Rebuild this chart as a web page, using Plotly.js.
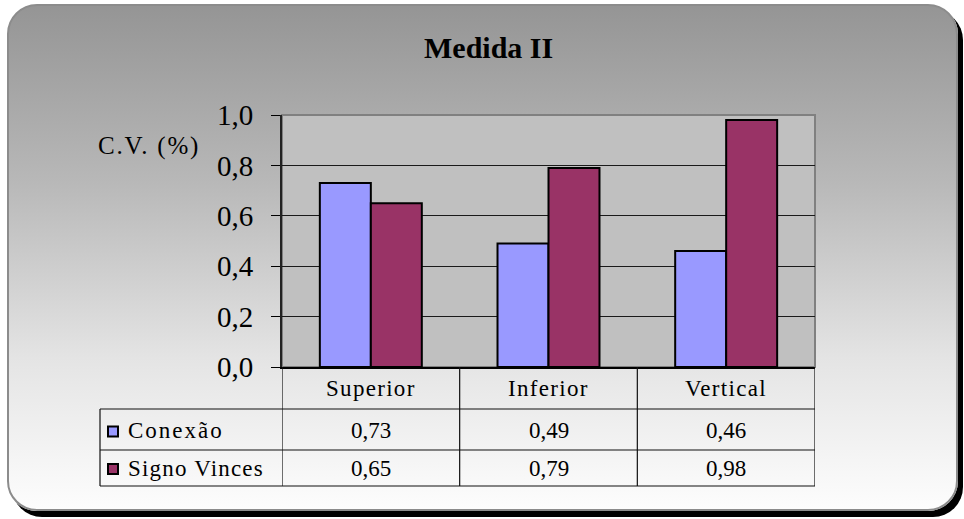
<!DOCTYPE html>
<html>
<head>
<meta charset="utf-8">
<script src="https://cdn.plot.ly/plotly-3.0.1.min.js"></script>
<style>
  html, body { margin: 0; padding: 0; background: #ffffff; }
  #wrap { position: relative; width: 964px; height: 519px; overflow: hidden; background: #ffffff; }
  #bg {
    position: absolute; left: 7px; top: 4px; width: 947px; height: 503px;
    border: 2px solid #8c8c8c; border-radius: 30px;
    background: linear-gradient(to bottom, #959595 0%, #b8b8b8 35%, #e4e4e4 70%, #fdfdfd 100%);
    box-shadow: 5px 6px 0 #000000;
  }
  #chart { position: absolute; left: 0; top: 0; width: 964px; height: 519px; }
</style>
</head>
<body>
<div id="wrap">
  <div id="bg"></div>
  <div id="chart"></div>
</div>
<script>
// ---- data ----
var categories = ["Superior", "Inferior", "Vertical"];
var seriesNames = ["Conexão", "Signo Vinces"];
var conexao = [0.73, 0.49, 0.46];
var signoVinces = [0.65, 0.79, 0.98];
var yTickValues = [0, 0.2, 0.4, 0.6, 0.8, 1.0];
var chartTitle = "Medida II";
var yLabel = "C.V. (%)";

// ---- layout helpers (pixel -> paper) ----
var W = 964, H = 519;
function px(x) { return x / W; }
function py(y) { return 1 - y / H; }

var colors = ["#9999FF", "#993366"];
var nameSpacing = [2, 1.2];
var seriesValues = [conexao, signoVinces];
var serifFont = "Liberation Serif";

var traces = seriesValues.map(function (vals, i) {
  return {
    type: "bar",
    x: categories,
    y: vals,
    name: seriesNames[i],
    marker: { color: colors[i], line: { color: "#000000", width: 2 } },
    hoverinfo: "skip"
  };
});

var plotL = 282, plotR = 815, plotT = 115, plotB = 367;
var rowY = [367, 409, 450, 486];

var shapes = [];
// plot area outline (gray top/right)
shapes.push({ type: "rect", xref: "paper", yref: "paper",
  x0: px(plotL), x1: px(plotR), y0: py(plotB), y1: py(plotT),
  line: { color: "#808080", width: 2 }, layer: "below" });

var lineColor = "#111111";
// table horizontal lines
[rowY[1], rowY[2], rowY[3]].forEach(function (y) {
  shapes.push({ type: "line", xref: "paper", yref: "paper",
    x0: px(100), x1: px(plotR), y0: py(y), y1: py(y),
    line: { color: lineColor, width: 1.2 } });
});
// vertical lines at category boundaries
for (var k = 0; k <= categories.length; k++) {
  shapes.push({ type: "line", xref: "x", yref: "paper",
    x0: k - 0.5, x1: k - 0.5, y0: py(rowY[0]), y1: py(rowY[3]),
    line: { color: lineColor, width: 1.2 } });
}
// left table border
shapes.push({ type: "line", xref: "paper", yref: "paper",
  x0: px(100), x1: px(100), y0: py(rowY[1]), y1: py(rowY[3]),
  line: { color: lineColor, width: 1.2 } });

// legend keys in table
var keyCenters = [(rowY[1] + rowY[2]) / 2 + 2, (rowY[2] + rowY[3]) / 2 + 1];
seriesNames.forEach(function (n, i) {
  shapes.push({ type: "rect", xref: "paper", yref: "paper",
    x0: px(108), x1: px(118), y0: py(keyCenters[i] + 5), y1: py(keyCenters[i] - 5),
    fillcolor: colors[i], line: { color: "#000000", width: 2 } });
});

function spaced(t, s) { return '<span style="letter-spacing:' + s + 'px">' + t + '</span>'; }

var annotations = [];
annotations.push({ text: "<b>" + chartTitle + "</b>", xref: "paper", yref: "paper",
  x: px(488), y: py(48), showarrow: false, xanchor: "center", yanchor: "middle",
  font: { family: serifFont, size: 30, color: "#000" } });
annotations.push({ text: spaced(yLabel, 1.8), xref: "paper", yref: "paper",
  x: px(149), y: py(146), showarrow: false, xanchor: "center", yanchor: "middle",
  font: { family: serifFont, size: 25, color: "#000" } });

categories.forEach(function (c, j) {
  annotations.push({ text: spaced(c, 1.3), xref: "x", yref: "paper",
    x: c, y: py(388), showarrow: false, xanchor: "center", yanchor: "middle",
    font: { family: serifFont, size: 23, color: "#000" } });
  seriesValues.forEach(function (vals, i) {
    annotations.push({ text: vals[j].toFixed(2).replace(".", ","), xref: "x", yref: "paper",
      x: c, y: py(keyCenters[i] - 1), showarrow: false, xanchor: "center", yanchor: "middle",
      font: { family: serifFont, size: 23, color: "#000" } });
  });
});
seriesNames.forEach(function (n, i) {
  annotations.push({ text: spaced(n, nameSpacing[i]), xref: "paper", yref: "paper",
    x: px(126), y: py(keyCenters[i] - 1), showarrow: false, xanchor: "left", yanchor: "middle",
    font: { family: serifFont, size: 23, color: "#000" } });
});

var layout = {
  width: W, height: H,
  margin: { l: 0, r: 0, t: 0, b: 0 },
  paper_bgcolor: "rgba(0,0,0,0)",
  plot_bgcolor: "#C0C0C0",
  separators: ",.",
  showlegend: false,
  barmode: "group",
  bargap: 0.426,
  bargroupgap: 0,
  xaxis: {
    domain: [px(plotL), px(plotR)],
    range: [-0.5, categories.length - 0.5],
    showticklabels: false, ticks: "",
    showline: true, linecolor: "#000", linewidth: 1.5,
    showgrid: false, zeroline: false, fixedrange: true
  },
  yaxis: {
    domain: [py(plotB), py(plotT)],
    range: [0, 1.0],
    tickvals: yTickValues, tickformat: ".1f",
    ticks: "outside", ticklen: 9, tickcolor: "#000", tickwidth: 1,
    ticklabelstandoff: 12,
    tickfont: { family: serifFont, size: 29, color: "#000" },
    showline: true, linecolor: "#222", linewidth: 2,
    showgrid: true, gridcolor: "#1a1a1a", gridwidth: 1,
    zeroline: false, fixedrange: true
  },
  shapes: shapes,
  annotations: annotations
};

Plotly.newPlot("chart", traces, layout, { displayModeBar: false, staticPlot: true });
</script>
</body>
</html>
